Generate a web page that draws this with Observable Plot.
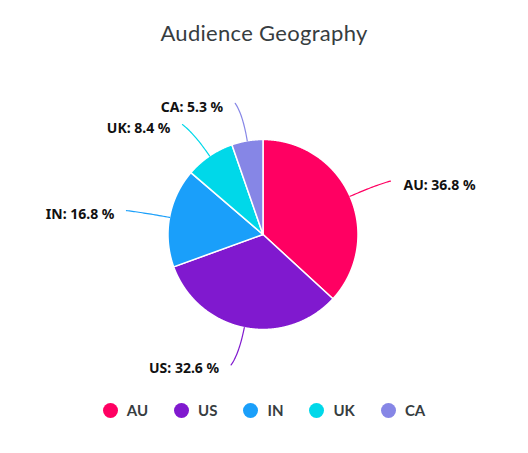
<!DOCTYPE html>
<html>
<head>
<meta charset="utf-8">
<script src="https://cdn.jsdelivr.net/npm/d3@7"></script>
<script src="https://cdn.jsdelivr.net/npm/@observablehq/plot@0.6"></script>
<style>
  html, body { margin: 0; padding: 0; background: #fff; }
  #wrap { width: 528px; }
  #title { height: 66px; line-height: 66px; text-align: center; font-family: Lato, sans-serif; font-size: 22px; color: #373d3f; letter-spacing: 0.3px; }
  #legend { height: 48px; display: flex; justify-content: center; align-items: center; font-family: Lato, sans-serif; font-weight: bold; font-size: 15px; color: #373d3f; }
  .item { display: flex; align-items: center; margin: 0 13px 0 13px; }
  .sw { width: 15px; height: 15px; border-radius: 50%; margin-right: 9px; }
</style>
</head>
<body>
<div id="wrap">
  <div id="title">Audience Geography</div>
  <div id="chart"></div>
  <div id="legend"></div>
</div>
<script>
const categories = ["AU", "US", "IN", "UK", "CA"];
const shares = [36.8, 32.6, 16.8, 8.4, 5.3];
const colors = ["#ff0062", "#8019cf", "#1a9ffa", "#00d8e9", "#8686e6"];

const W = 528, H = 320, R = 95, CX = 262.5, CY = 168;
const data = categories.map((c, i) => ({cat: c, value: shares[i]}));
const arcs = d3.pie().sort(null).value(d => d.value).startAngle(0).endAngle(2 * Math.PI)(data);

// angle measured clockwise from top, radius in units of the pie radius
const pt = (r, a) => ({x: r * Math.sin(a), y: r * Math.cos(a)});
const slicePts = [];
for (const a of arcs) {
  const cat = a.data.cat;
  slicePts.push({cat, ...pt(0, 0)});
  const n = Math.max(2, Math.ceil((a.endAngle - a.startAngle) / 0.005));
  for (let k = 0; k <= n; k++) slicePts.push({cat, ...pt(1, a.startAngle + (a.endAngle - a.startAngle) * k / n)});
  slicePts.push({cat, ...pt(0, 0)});
}

// curved leader lines (quadratic bezier) and labels
const leaderPts = [];
const labels = [];
for (const a of arcs) {
  const cat = a.data.cat;
  const m = (a.startAngle + a.endAngle) / 2;
  const side = Math.sin(m) >= 0 ? 1 : -1;
  const p0 = pt(1.0, m);
  const p1 = pt(1.28, m);
  const p2 = pt(1.4, m);
  p2.x += side * 0.06;
  for (let k = 0; k <= 24; k++) {
    const t = k / 24, u = 1 - t;
    leaderPts.push({cat,
      x: u * u * p0.x + 2 * u * t * p1.x + t * t * p2.x,
      y: u * u * p0.y + 2 * u * t * p1.y + t * t * p2.y});
  }
  labels.push({cat, side, x: p2.x, y: p2.y, text: `${cat}: ${a.data.value} %`});
}

const labelStyle = {fontFamily: "'Noto Sans', sans-serif", fontWeight: "bold", fontSize: 14, fill: "#111"};

const chart = Plot.plot({
  width: W, height: H,
  marginTop: 0, marginBottom: 0, marginLeft: 0, marginRight: 0,
  x: {domain: [-CX / R, (W - CX) / R], axis: null},
  y: {domain: [-(H - CY) / R, CY / R], axis: null},
  color: {domain: categories, range: colors},
  style: {background: "transparent", overflow: "visible"},
  marks: [
    Plot.line(slicePts, {x: "x", y: "y", z: "cat", fill: "cat", stroke: "white", strokeWidth: 1.5, strokeLinejoin: "round"}),
    Plot.line(leaderPts, {x: "x", y: "y", z: "cat", stroke: "cat", strokeWidth: 1.2}),
    Plot.text(labels.filter(d => d.side > 0), {x: "x", y: "y", text: "text", textAnchor: "start", dx: 13, dy: 4, ...labelStyle}),
    Plot.text(labels.filter(d => d.side < 0), {x: "x", y: "y", text: "text", textAnchor: "end", dx: -12, dy: 4, ...labelStyle})
  ]
});
document.getElementById("chart").appendChild(chart);

const legend = document.getElementById("legend");
categories.forEach((c, i) => {
  const it = document.createElement("div");
  it.className = "item";
  it.innerHTML = `<span class="sw" style="background:${colors[i]}"></span><span>${c}</span>`;
  legend.appendChild(it);
});
</script>
</body>
</html>
